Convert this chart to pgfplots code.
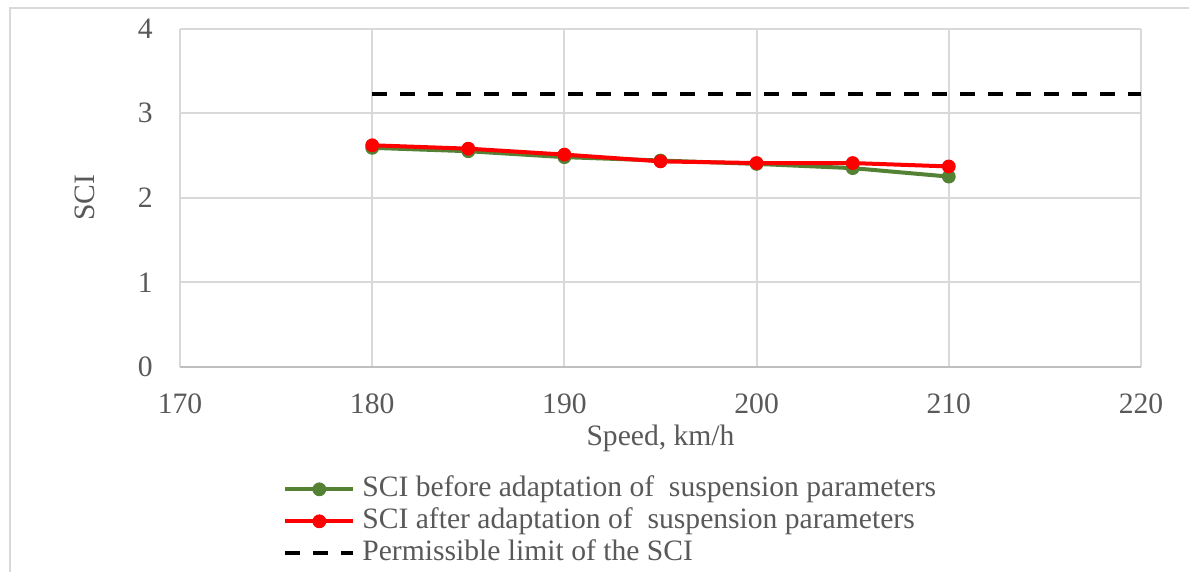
\documentclass[border=0pt]{standalone}
\usepackage{fontspec}
\setmainfont{Liberation Serif}
\usepackage{pgfplots}
\pgfplotsset{compat=1.18}
\definecolor{gridc}{HTML}{D9D9D9}
\definecolor{axisc}{HTML}{BFBFBF}
\definecolor{txt}{HTML}{595959}
\definecolor{sgreen}{HTML}{548235}
\definecolor{sred}{HTML}{FF0000}
\begin{document}
\begin{tikzpicture}
\path[use as bounding box] (-90pt,-102.5pt) rectangle (504.5pt,183.5pt);
\draw[gridc,line width=1pt] (-85pt,-120pt) -- (-85pt,179.5pt) -- (520pt,179.5pt);
\begin{axis}[
  name=ax,
  scale only axis,
  width=480.5pt, height=169.25pt,
  xmin=170, xmax=220, ymin=0, ymax=4,
  xtick={170,180,...,220}, ytick={0,1,2,3,4},
  grid=major,
  major grid style={gridc, line width=1pt},
  axis line style={draw=none},
  major tick length=0pt,
  font=\fontsize{14.8}{17}\selectfont,
  /pgf/number format/assume math mode=true,
  /pgf/number format/set thousands separator={},
  tick label style={text=txt},
  xticklabel style={inner sep=0pt, anchor=north, yshift=-13pt},
  yticklabel style={inner sep=0pt, anchor=east, xshift=-13.5pt},
  xlabel={Speed, km/h},
  ylabel={SCI},
  label style={text=txt},
  xlabel style={at={(axis description cs:0.5,-0.2118)}, anchor=center},
  ylabel style={at={(axis description cs:-0.0989,0.5)}, anchor=center},
  clip=false,
  legend cell align=left,
  legend style={
    at={(axis description cs:0.1009,-0.31)}, anchor=north west,
    draw=none, fill=none, text=txt,
    font=\fontsize{14.8}{17}\selectfont,
    nodes={inner sep=0pt, text height=10pt, text depth=3pt},
    row sep=3pt, column sep=3.5pt,
  },
  legend image code/.code={
    \draw[mark repeat=2,mark phase=2,#1] plot coordinates {(0pt,0pt) (17pt,0pt) (34pt,0pt)};
  },
]
\draw[axisc, line width=1pt] (rel axis cs:0,0) -- (rel axis cs:1,0);
\addplot[sgreen, line width=2pt, mark=*, mark size=3.2pt, mark options={solid, fill=sgreen, draw=sgreen, line width=0.5pt}] coordinates {
(180,2.59) (185,2.55) (190,2.48) (195,2.44) (200,2.40) (205,2.35) (210,2.25)};
\addlegendentry{SCI before adaptation of \ suspension parameters}
\addplot[sred, line width=2pt, mark=*, mark size=3.2pt, mark options={solid, fill=sred, draw=sred, line width=0.5pt}] coordinates {
(180,2.62) (185,2.58) (190,2.51) (195,2.43) (200,2.41) (205,2.41) (210,2.37)};
\addlegendentry{SCI after adaptation of \ suspension parameters}
\addplot[black, line width=2pt, dash pattern=on 7.5pt off 6.5pt] coordinates {(180,3.23) (220,3.23)};
\addlegendentry{Permissible limit of the SCI}
\end{axis}
\end{tikzpicture}
\end{document}
